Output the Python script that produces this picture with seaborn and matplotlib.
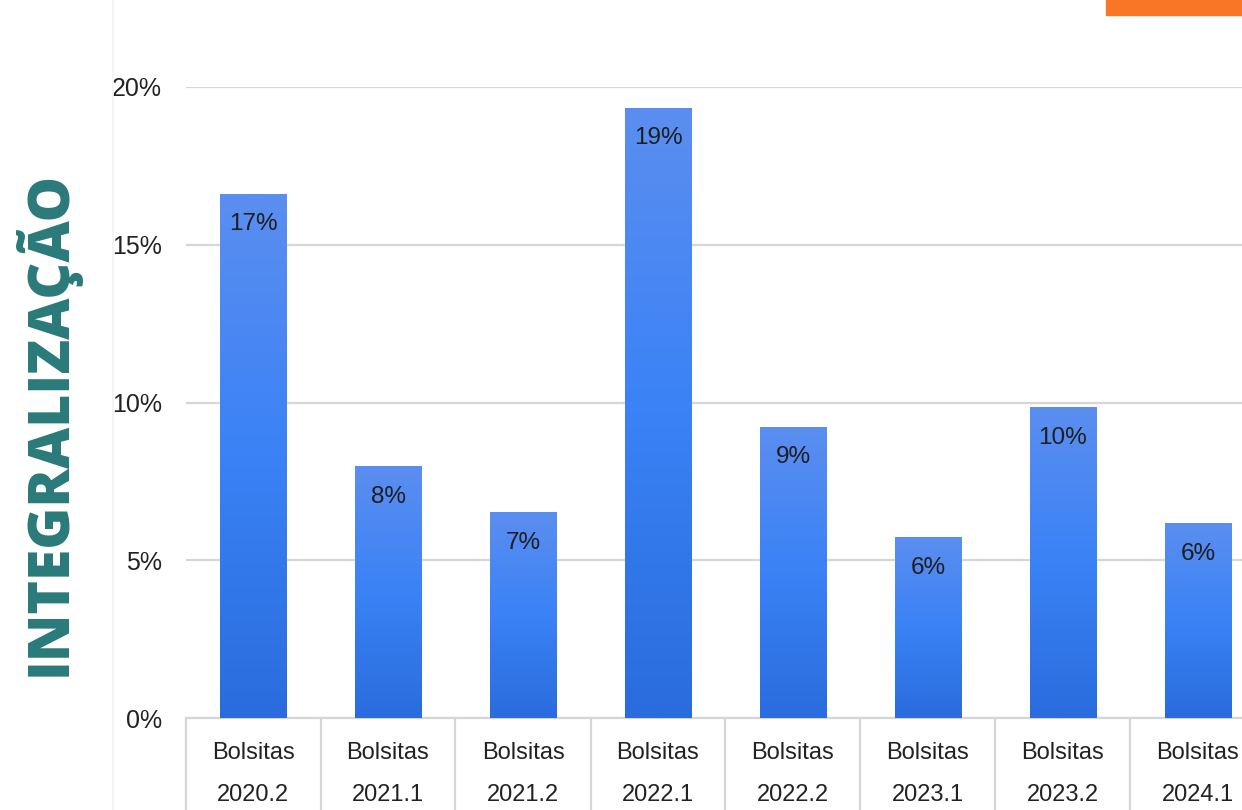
import numpy as np
import pandas as pd
import seaborn as sns
import matplotlib.pyplot as plt
from matplotlib.colors import LinearSegmentedColormap
from matplotlib.patches import Rectangle
from matplotlib.lines import Line2D

# Data.
semesters = ['2020.2', '2021.1', '2021.2', '2022.1', '2022.2', '2023.1', '2023.2', '2024.1']
values = [16.6, 7.96, 6.5, 19.33, 9.22, 5.71, 9.83, 6.15]
labels = ['17%', '8%', '7%', '19%', '9%', '6%', '10%', '6%']
yticks = [0, 5, 10, 15, 20]

df = pd.DataFrame({'turma': [f'Bolsitas\n{s}' for s in semesters], 'pct': values})

sns.set_style('white')
plt.rcParams['font.family'] = ['Liberation Sans', 'DejaVu Sans']

W, H = 1242, 810
fig = plt.figure(figsize=(W / 100, H / 100), dpi=100)
ax = fig.add_axes([185.5 / W, 92 / H, 1080 / W, 631 / H])

sns.barplot(data=df, x='turma', y='pct', color='#3a80f5', width=0.49,
            saturation=1, ax=ax, zorder=2)

# Vertical gradient on every bar.
cmap = LinearSegmentedColormap.from_list('bar', ['#5b8ef0', '#3a82f6', '#2a6cdd'])
grad = np.linspace(0, 1, 256).reshape(-1, 1)
for p in ax.patches:
    x0, w, h = p.get_x(), p.get_width(), p.get_height()
    ax.imshow(grad, extent=[x0, x0 + w, 0, h], aspect='auto', cmap=cmap, zorder=3)

for i, (v, lab) in enumerate(zip(values, labels)):
    ax.annotate(lab, (i, v), xytext=(0, -21.5), textcoords='offset points',
                ha='center', va='center', fontsize=17.5, color='#1e1e1e', zorder=4)

ax.set_xlim(-0.5, 7.5)
ax.set_ylim(0, 20)
ax.set_yticks(yticks)
ax.set_yticklabels([f'{t}%' for t in yticks])
ax.tick_params(axis='y', length=0, pad=17, labelsize=18, labelcolor='#222222')
ax.yaxis.grid(True, color='#d6d6d6', lw=1.6)
ax.set_axisbelow(True)
ax.set_xlabel('')
ax.set_ylabel('')

# Category "table" cells below the axis.
ax.set_xticks(np.arange(-0.5, 8, 1), minor=True)
ax.tick_params(axis='x', which='minor', bottom=True, length=100, width=1.6,
               color='#d6d6d6', direction='out')
ax.tick_params(axis='x', which='major', bottom=True, length=0, pad=17,
               labelsize=17, labelcolor='#222222')
for t in ax.get_xticklabels():
    t.set_linespacing(2.2)

for s in ['left', 'top', 'right']:
    ax.spines[s].set_visible(False)
ax.spines['bottom'].set_color('#d6d6d6')
ax.spines['bottom'].set_linewidth(1.6)

# Decorations around the chart.
fig.add_artist(Line2D([113 / W, 113 / W], [0, 1], color='#f2f2f2', lw=1.2))
fig.add_artist(Rectangle((1106 / W, 1 - 15 / H), 136 / W, 15 / H,
                         color='#f97627', transform=fig.transFigure))
fig.text(46 / W, 1 - 423 / H, 'INTEGRALIZAÇÃO', rotation=90, ha='center', va='center',
         fontsize=41, fontweight='heavy', color='#2a7a7a',
         family=['Open Sans', 'DejaVu Sans'])

fig.savefig('out.png', dpi=100)
